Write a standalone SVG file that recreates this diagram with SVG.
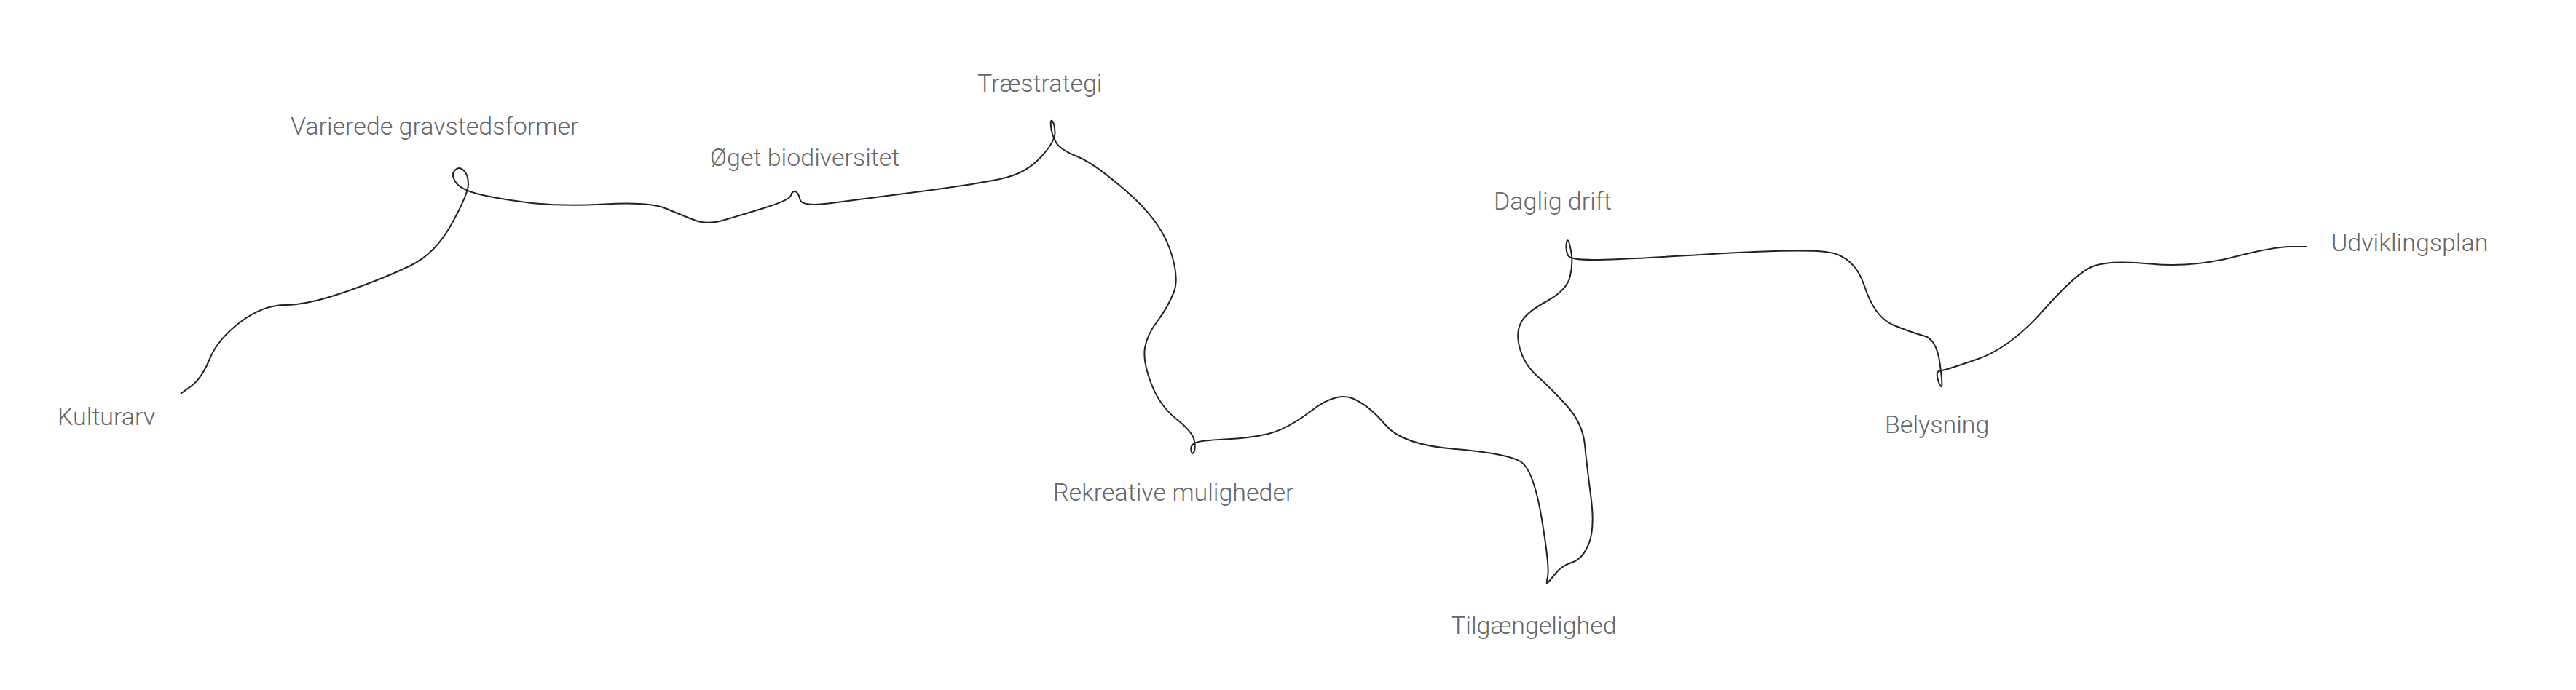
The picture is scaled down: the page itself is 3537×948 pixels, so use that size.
<svg xmlns="http://www.w3.org/2000/svg" width="3537" height="948" viewBox="0 0 3537 948">
<style>
text{font-family:Roboto,"Liberation Sans",sans-serif;font-weight:300;font-size:34px;fill:#666}
.c{fill:none;stroke:#222;stroke-width:2}
</style>
<rect width="3537" height="948" fill="#fff"/>
<g id="connectors">
<path class="c" d="M248,541 L262.5,530.5 Q277,520 288,493 Q299,466 330,442.5 Q361,419 392,419 Q423,419 477,400 Q531,381 564.5,364.5 Q598,348 620.5,307 Q643,266 643,253 Q643,240 636.5,234 Q630,228 624.5,234 Q619,240 625.5,250 Q632,260 654.5,266 Q677,272 722.5,278 Q768,284 830,280.5 Q892,277 914.5,286.5 Q937,296 954,302.5 Q971,309 993.5,302.5 Q1016,296 1050,285.5 Q1084,275 1086,268.5 Q1088,262 1092,263 Q1096,264 1098.5,274 Q1101,284 1137.5,279.5 Q1174,275 1264.5,263 Q1355,251 1383,243.5 Q1411,236 1430,215 Q1449,194 1448.5,182 Q1448,170 1445,166.5 Q1442,163 1443,174 Q1444,185 1450,195.5 Q1456,206 1479,215 Q1502,224 1547,263 Q1592,302 1606,341.5 Q1620,381 1611.5,402 Q1603,423 1589,441.5 Q1575,460 1572,478 Q1569,496 1580.5,526.5 Q1592,557 1614.5,575 Q1637,593 1639.5,604 Q1642,615 1639.5,620.5 Q1637,626 1635.5,619 Q1634,612 1641,608.5 Q1648,605 1682,603.5 Q1716,602 1741.5,596 Q1767,590 1801,564 Q1835,538 1857.5,547.5 Q1880,557 1902.5,584 Q1925,611 1998.5,617 Q2072,623 2089,635 Q2106,647 2117,713.5 Q2128,780 2125,792.5 Q2122,805 2126,800 Q2130,795 2137.5,786 Q2145,777 2159,772.5 Q2173,768 2181.5,747 Q2190,726 2184.5,683.5 Q2179,641 2176,611 Q2173,581 2150.5,556.5 Q2128,532 2111,517 Q2094,502 2087.5,481 Q2081,460 2087.5,445 Q2094,430 2122.5,414.5 Q2151,399 2155.5,381 Q2160,363 2157.5,347.5 Q2155,332 2153,330.5 Q2151,329 2150.5,337 Q2150,345 2153,351 Q2156,357 2187.5,357 Q2219,357 2343,349.5 Q2467,342 2506.5,346 Q2546,350 2560,393 Q2574,436 2599.5,446.5 Q2625,457 2642,461.5 Q2659,466 2663.5,499 Q2668,532 2665.5,531 Q2663,530 2660.5,520 Q2658,510 2664,509.5 Q2670,509 2715,493.5 Q2760,478 2805.5,426.5 Q2851,375 2873.5,366 Q2896,357 2952.5,362.5 Q3009,368 3065.5,353.5 Q3122,339 3144.5,339 L3167,339"/>
</g>
<g id="n1"><text x="79" y="584">Kulturarv</text></g>
<g id="n2"><text x="399" y="185">Varierede gravstedsformer</text></g>
<g id="n3"><text x="975" y="228">Øget biodiversitet</text></g>
<g id="n4"><text x="1342" y="126">Træstrategi</text></g>
<g id="n5"><text x="1446" y="688">Rekreative muligheder</text></g>
<g id="n6"><text x="2051" y="288">Daglig drift</text></g>
<g id="n7"><text x="1992" y="871">Tilgængelighed</text></g>
<g id="n8"><text x="2588" y="595">Belysning</text></g>
<g id="n9"><text x="3201" y="345">Udviklingsplan</text></g>
</svg>
